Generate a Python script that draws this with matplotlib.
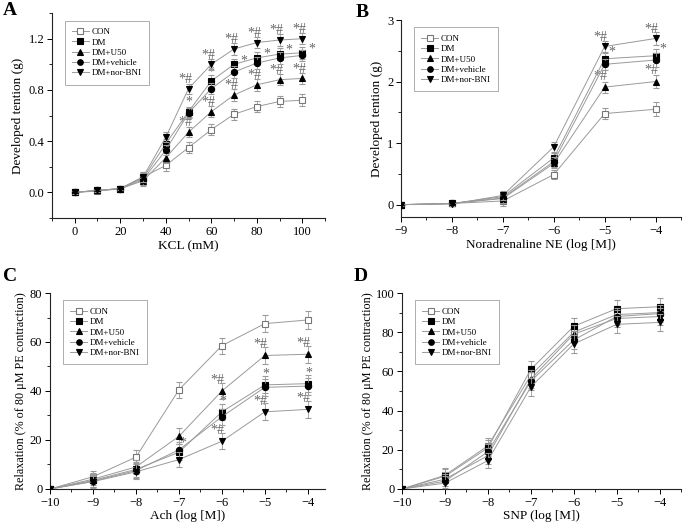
import matplotlib
matplotlib.use("Agg")
import matplotlib.pyplot as plt
from matplotlib.ticker import MultipleLocator, FormatStrFormatter
from matplotlib.lines import Line2D
import numpy as np

plt.rcParams['font.family'] = ['Liberation Serif', 'DejaVu Serif']

series_names = ["CON", "DM", "DM+U50", "DM+vehicle", "DM+nor-BNI"]

# Panel A
kcl_x = [0, 10, 20, 30, 40, 50, 60, 70, 80, 90, 100]
a_con = [0.0, 0.01, 0.03, 0.12, 0.21, 0.35, 0.49, 0.61, 0.67, 0.71, 0.72]
a_dm = [0.0, 0.015, 0.03, 0.11, 0.38, 0.63, 0.87, 1.00, 1.05, 1.08, 1.09]
a_u50 = [0.0, 0.015, 0.03, 0.09, 0.27, 0.47, 0.63, 0.76, 0.84, 0.88, 0.89]
a_veh = [0.0, 0.015, 0.025, 0.10, 0.33, 0.62, 0.81, 0.94, 1.01, 1.05, 1.07]
a_bni = [0.0, 0.015, 0.03, 0.12, 0.43, 0.81, 1.00, 1.12, 1.17, 1.19, 1.20]
a_err = [0.01, 0.01, 0.015, 0.04, 0.04, 0.04, 0.045, 0.045, 0.045, 0.045, 0.045]

# Panel B
ne_x = [-9, -8, -7, -6, -5, -4]
b_con = [0.0, 0.02, 0.06, 0.49, 1.48, 1.55]
b_dm = [0.0, 0.02, 0.13, 0.76, 2.37, 2.42]
b_u50 = [0.0, 0.02, 0.10, 0.67, 1.91, 2.00]
b_veh = [0.0, 0.02, 0.11, 0.70, 2.28, 2.35]
b_bni = [0.0, 0.01, 0.15, 0.94, 2.57, 2.70]
b_err = [0.02, 0.03, 0.08, 0.08, 0.09, 0.11]

# Panel C
ach_x = [-10, -9, -8, -7, -6, -5, -4]
c_con = [0.0, 5.0, 13.0, 40.5, 58.5, 67.5, 69.0]
c_dm = [0.0, 3.5, 8.0, 15.0, 31.5, 42.5, 43.0]
c_u50 = [0.0, 4.0, 9.0, 21.5, 40.0, 54.5, 55.0]
c_veh = [0.0, 3.2, 7.5, 16.0, 29.5, 41.5, 42.0]
c_bni = [0.0, 3.0, 7.0, 12.0, 19.5, 31.5, 32.5]
c_err = [0.3, 2.5, 3.0, 3.2, 3.2, 3.5, 3.5]

# Panel D
snp_x = [-10, -9, -8, -7, -6, -5, -4]
d_con = [0.0, 7.0, 22.0, 58.0, 80.0, 89.0, 90.0]
d_dm = [0.0, 6.5, 21.0, 61.0, 83.0, 92.0, 93.0]
d_u50 = [0.0, 5.0, 17.0, 56.0, 79.0, 87.0, 88.0]
d_veh = [0.0, 4.0, 19.0, 55.0, 76.0, 88.0, 89.5]
d_bni = [0.0, 3.0, 14.5, 52.0, 74.0, 84.0, 85.0]
d_err = [0.5, 3.5, 4.0, 4.5, 4.5, 4.5, 4.5]

markers = ['s', 's', '^', 'o', 'v']
line_gray = '#9a9a9a'
star_gray = '#666666'

fig = plt.figure(figsize=(6.85, 5.25), dpi=100)

def make_ax(rect):
    ax = fig.add_axes(rect)
    ax.spines['top'].set_visible(False)
    ax.spines['right'].set_visible(False)
    for s in ['left', 'bottom']:
        ax.spines[s].set_linewidth(0.8)
        ax.spines[s].set_color('#222222')
    ax.tick_params(which='major', direction='out', length=3.5, width=0.7, labelsize=9, pad=2)
    ax.tick_params(which='minor', direction='out', length=2, width=0.6)
    return ax

def face(i):
    return ('white', '#777777') if i == 0 else ('black', 'black')

def plot_series(ax, x, ys, err):
    handles = []
    for i, (y, m) in enumerate(zip(ys, markers)):
        fc, ec = face(i)
        ax.errorbar(x, y, yerr=err, color=line_gray, lw=0.7, elinewidth=0.6,
                    capsize=2, capthick=0.6, marker=m, ms=4.5,
                    mfc=fc, mec=ec, mew=0.8, zorder=3 + i)
        handles.append(Line2D([], [], color=line_gray, lw=0.7, marker=m, ms=4,
                              mfc=fc, mec=ec, mew=0.8, label=series_names[i]))
    leg = ax.legend(handles=handles, loc='upper left', fontsize=6.5, frameon=True,
                    fancybox=False, edgecolor='#888888', handlelength=1.9,
                    handletextpad=0.3, labelspacing=0.22, borderpad=0.8,
                    bbox_to_anchor=(0.03, 0.985))
    leg.get_frame().set_linewidth(0.6)

def star(ax, x, y, txt, dx, dy):
    ax.annotate(txt, (x, y), xytext=(dx, dy), textcoords='offset points',
                ha='center', va='bottom', fontsize=10, color=star_gray)

# ---------- A ----------
axA = make_ax([0.0759, 0.5848, 0.3986, 0.3902])
plot_series(axA, kcl_x, [a_con, a_dm, a_u50, a_veh, a_bni], a_err)
axA.set_xlim(-10, 110)
axA.set_ylim(-0.2, 1.4)
axA.xaxis.set_major_locator(MultipleLocator(20))
axA.xaxis.set_minor_locator(MultipleLocator(10))
axA.yaxis.set_major_locator(MultipleLocator(0.4))
axA.yaxis.set_minor_locator(MultipleLocator(0.2))
axA.yaxis.set_major_formatter(FormatStrFormatter('%.1f'))
axA.set_xlabel('KCL (mM)', fontsize=9.5, labelpad=2)
axA.set_ylabel('Developed tention (g)', fontsize=9.5, labelpad=3)
for i in range(5, 11):
    star(axA, kcl_x[i], a_bni[i], '*#', -2, 2)
    star(axA, kcl_x[i], a_u50[i], '*#', -2, 2)
for i in [5, 6]:
    star(axA, kcl_x[i], a_dm[i], '*', 0, 2)
for i in [7, 8, 9, 10]:
    star(axA, kcl_x[i], a_dm[i], '*', 7, -2)

# ---------- B ----------
axB = make_ax([0.5854, 0.5867, 0.4088, 0.3752])
plot_series(axB, ne_x, [b_con, b_dm, b_u50, b_veh, b_bni], b_err)
axB.set_xlim(-9, -3.5)
axB.set_ylim(-0.2, 3)
axB.xaxis.set_major_locator(MultipleLocator(1))
axB.xaxis.set_minor_locator(MultipleLocator(0.5))
axB.yaxis.set_major_locator(MultipleLocator(1))
axB.yaxis.set_minor_locator(MultipleLocator(0.5))
axB.set_xlabel('Noradrenaline NE (log [M])', fontsize=9.5, labelpad=2)
axB.set_ylabel('Developed tention (g)', fontsize=9.5, labelpad=3)
for i in [4, 5]:
    star(axB, ne_x[i], b_bni[i], '*#', -3, 2)
    star(axB, ne_x[i], b_u50[i], '*#', -3, 3)
    star(axB, ne_x[i], b_dm[i], '*', 5, 0)

# ---------- C ----------
axC = make_ax([0.0730, 0.0686, 0.4015, 0.3733])
plot_series(axC, ach_x, [c_con, c_dm, c_u50, c_veh, c_bni], c_err)
axC.set_xlim(-10, -3.6)
axC.set_ylim(0, 80)
axC.xaxis.set_major_locator(MultipleLocator(1))
axC.xaxis.set_minor_locator(MultipleLocator(0.5))
axC.yaxis.set_major_locator(MultipleLocator(20))
axC.yaxis.set_minor_locator(MultipleLocator(10))
axC.set_xlabel('Ach (log [M])', fontsize=9.5, labelpad=1)
axC.set_ylabel('Relaxation (% of 80 \u03bcM PE contraction)', fontsize=8.7, labelpad=2)
star(axC, ach_x[3], c_dm[3], '*', 3, 2)
for i in [4, 5, 6]:
    star(axC, ach_x[i], c_u50[i], '*#', -3, 3)
    star(axC, ach_x[i], c_dm[i], '*', 1, 3)
    star(axC, ach_x[i], c_bni[i], '*#', -3, 3)

# ---------- D ----------
axD = make_ax([0.5869, 0.0686, 0.4073, 0.3733])
plot_series(axD, snp_x, [d_con, d_dm, d_u50, d_veh, d_bni], d_err)
axD.set_xlim(-10, -3.5)
axD.set_ylim(0, 100)
axD.xaxis.set_major_locator(MultipleLocator(1))
axD.xaxis.set_minor_locator(MultipleLocator(0.5))
axD.yaxis.set_major_locator(MultipleLocator(20))
axD.yaxis.set_minor_locator(MultipleLocator(10))
axD.set_xlabel('SNP (log [M])', fontsize=9.5, labelpad=1)
axD.set_ylabel('Relaxation (% of 80 \u03bcM PE contraction)', fontsize=8.7, labelpad=1)

for lbl, (px, py) in zip(['A', 'B', 'C', 'D'], [(3, 2), (356, 4), (3, 268), (354, 268)]):
    fig.text(px / 685, 1 - py / 525, lbl, fontsize=14, fontweight='bold',
             ha='left', va='top')

fig.savefig('out.png', dpi=100)
